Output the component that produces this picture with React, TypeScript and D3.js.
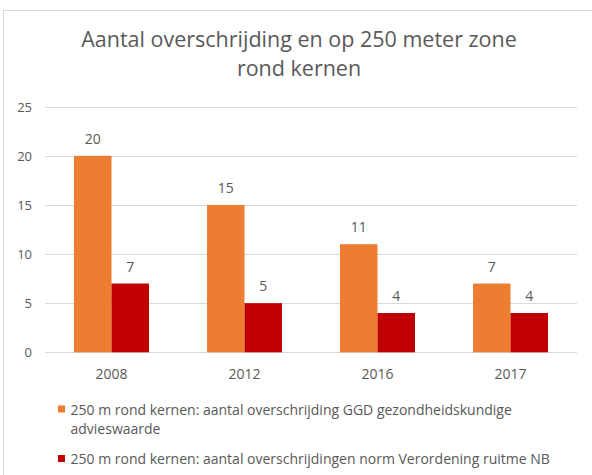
import React, { useEffect, useRef } from 'react';
import * as d3 from 'd3';

const years = ['2008', '2012', '2016', '2017'];
const ggdValues = [20, 15, 11, 7];
const normValues = [7, 5, 4, 4];
const yTicks = [0, 5, 10, 15, 20, 25];
const seriesNames = [
  '250 m rond kernen: aantal overschrijding GGD gezondheidskundige',
  'advieswaarde',
];
const seriesName2 = '250 m rond kernen: aantal overschrijdingen norm Verordening ruitme NB';
const titleLines = ['Aantal overschrijding en op 250 meter zone', 'rond kernen'];

export default function App() {
  const chartRef = useRef<HTMLDivElement>(null);

  useEffect(() => {
    document.body.style.margin = '0';
    const font = "'Open Sans', sans-serif";
    const textColor = '#595959';
    const gridColor = '#D9D9D9';
    const colors = ['#ED7D31', '#C00000'];

    d3.select(chartRef.current).select('svg').remove();

    const svg = d3
      .select(chartRef.current)
      .append('svg')
      .attr('width', 592)
      .attr('height', 475)
      .style('display', 'block')
      .style('background', '#fff');

    // chart frame (runs off the right and bottom edge)
    svg
      .append('rect')
      .attr('x', 3.5)
      .attr('y', 10.5)
      .attr('width', 620)
      .attr('height', 500)
      .attr('fill', 'none')
      .attr('stroke', gridColor);

    // title
    svg
      .append('g')
      .selectAll('text')
      .data(titleLines)
      .join('text')
      .attr('x', 299)
      .attr('y', (d, i) => 47 + i * 28.5)
      .attr('text-anchor', 'middle')
      .attr('font-family', font)
      .attr('font-size', 21.5)
      .attr('fill', textColor)
      .text(d => d);

    const left = 45;
    const right = 577;

    const x0 = d3.scaleBand().domain(years).range([left, right]);
    const x1 = d3
      .scaleBand()
      .domain(['a', 'b'])
      .range([0, 75]);
    const groupOffset = (x0.bandwidth() - 75) / 2;

    const y = d3.scaleLinear().domain([0, 25]).range([352.3, 106.7]);

    // gridlines
    svg
      .append('g')
      .selectAll('line')
      .data(yTicks)
      .join('line')
      .attr('x1', left)
      .attr('x2', right)
      .attr('y1', d => Math.round(y(d)) + 0.5)
      .attr('y2', d => Math.round(y(d)) + 0.5)
      .attr('stroke', gridColor);

    // y labels
    svg
      .append('g')
      .selectAll('text')
      .data(yTicks)
      .join('text')
      .attr('x', 32)
      .attr('y', d => y(d) + 5)
      .attr('text-anchor', 'end')
      .attr('font-family', font)
      .attr('font-size', 13)
      .attr('fill', textColor)
      .text(d => d);

    const series = [ggdValues, normValues];
    series.forEach((values, si) => {
      const key = si === 0 ? 'a' : 'b';
      const g = svg.append('g');
      g.selectAll('rect')
        .data(values)
        .join('rect')
        .attr('x', (d, i) => (x0(years[i]) as number) + groupOffset + (x1(key) as number))
        .attr('y', d => y(d))
        .attr('width', x1.bandwidth())
        .attr('height', d => y(0) - y(d))
        .attr('fill', colors[si]);

      g.selectAll('text')
        .data(values)
        .join('text')
        .attr(
          'x',
          (d, i) =>
            (x0(years[i]) as number) + groupOffset + (x1(key) as number) + x1.bandwidth() / 2
        )
        .attr('y', d => y(d) - 12)
        .attr('text-anchor', 'middle')
        .attr('font-family', font)
        .attr('font-size', 14)
        .attr('fill', textColor)
        .text(d => d);
    });

    // x labels
    svg
      .append('g')
      .selectAll('text')
      .data(years)
      .join('text')
      .attr('x', d => (x0(d) as number) + x0.bandwidth() / 2)
      .attr('y', 379)
      .attr('text-anchor', 'middle')
      .attr('font-family', font)
      .attr('font-size', 14)
      .attr('fill', textColor)
      .text(d => d);

    // legend
    const legend = svg.append('g');
    legend
      .append('rect')
      .attr('x', 58)
      .attr('y', 405.5)
      .attr('width', 7)
      .attr('height', 7)
      .attr('fill', colors[0]);
    legend
      .selectAll('text.l1')
      .data(seriesNames)
      .join('text')
      .attr('class', 'l1')
      .attr('x', 70.5)
      .attr('y', (d, i) => 415 + i * 19)
      .attr('font-family', font)
      .attr('font-size', 14)
      .attr('fill', textColor)
      .text(d => d);
    legend
      .append('rect')
      .attr('x', 58)
      .attr('y', 455)
      .attr('width', 7)
      .attr('height', 7)
      .attr('fill', colors[1]);
    legend
      .append('text')
      .attr('x', 70.5)
      .attr('y', 464)
      .attr('font-family', font)
      .attr('font-size', 14)
      .attr('fill', textColor)
      .text(seriesName2);
  }, []);

  return (
    <div>
      <div className="bar-chart" ref={chartRef}></div>
    </div>
  );
}
